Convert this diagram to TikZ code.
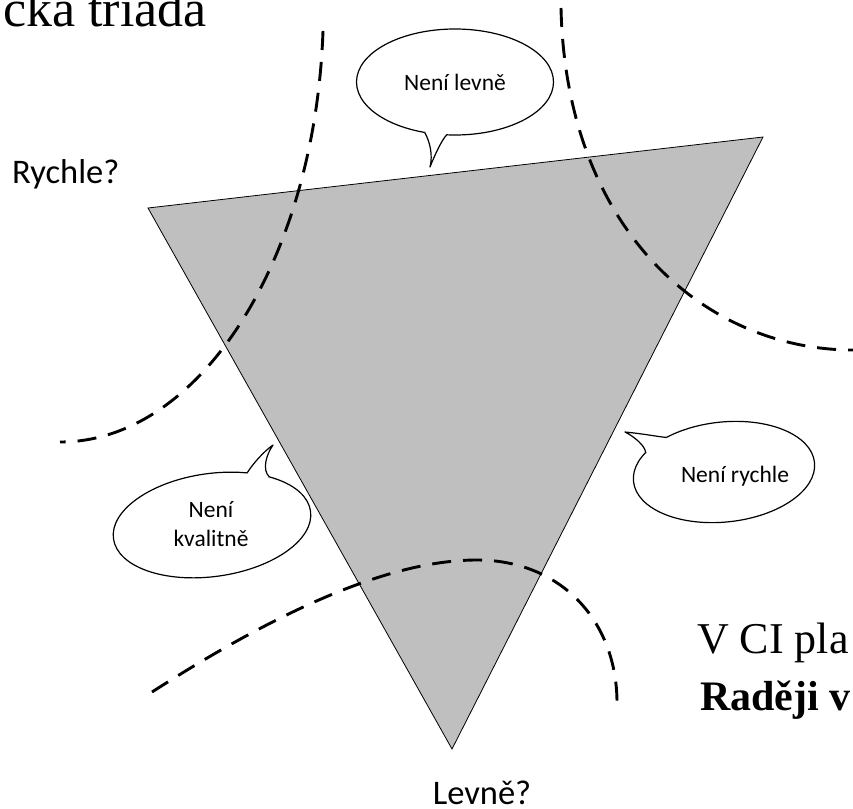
\documentclass[tikz,border=0pt]{standalone}
\usepackage{fontspec}
\setmainfont{Liberation Serif}
\newfontfamily\calibri{Carlito}
\usetikzlibrary{shapes.geometric,calc}
\definecolor{triGray}{RGB}{191,191,191}
\begin{document}
\begin{tikzpicture}[x=1pt,y=-1pt,
  tri/.style={fill=triGray, draw=black, line width=0.8pt, line join=miter},
  sep/.style={draw=black, dash pattern=on 19pt off 12pt, line width=2.9pt},
  bubble/.style={ellipse, draw=black, fill=white, line width=1.2pt, inner sep=0pt, outer sep=0pt},
  tail/.style={draw=black, line width=1.2pt, line join=round},
  btext/.style={font=\calibri\fontsize{23.5}{29}\selectfont, align=center, inner sep=0pt},
  lab/.style={font=\calibri\fontsize{34.5}{40}\selectfont, inner sep=0pt},
  serif/.style={font=\fontsize{44}{50}\selectfont, inner sep=0pt, anchor=base west}]
\useasboundingbox (0,0) rectangle (853,808);
\begin{scope}
\clip (0,0) rectangle (853,808);
% triangle
\coordinate (A) at (148,208);
\coordinate (B) at (763,137);
\coordinate (C) at (452,749);
\draw[tri] (A) -- (B) -- (C) -- cycle;
% dashed separators
\coordinate (a0) at (323,31);
\coordinate (a1) at (60,442);
\draw[sep] (a0) .. controls (315,260) and (200,442) .. (a1);
\coordinate (b0) at (561,8);
\coordinate (b1) at (853,350);
\draw[sep] (b0) .. controls (566,230) and (705,350) .. (b1);
\coordinate (c0) at (152,692);
\coordinate (cm) at (477,560);
\coordinate (c1) at (617,703);
\draw[sep] (c0) .. controls (280,610) and (390,560) .. (cm) .. controls (560,560) and (617,620) .. (c1);
% bubble 1
\node[bubble, minimum width=197pt, minimum height=106pt] (e1) at (455,82) {};
\coordinate (tip1) at (430,167);
\fill[white] (e1.239.5) .. controls (430,142) and (433,155) .. (tip1) .. controls (436,152) and (442,140) .. (e1.261) -- ($(e1.center)!0.85!(e1.250)$) -- cycle;
\draw[tail] (e1.239.5) .. controls (430,142) and (433,155) .. (tip1) .. controls (436,152) and (442,140) .. (e1.261);
\node[btext] (t1) at (455,82) {Není levně};
% bubble 2
\node[bubble, minimum width=199pt, minimum height=103pt, rotate=8] (e2) at (212,525) {};
\coordinate (tip2) at (273,445);
\fill[white] (e2.48) .. controls (252,465) and (263,452) .. (tip2) .. controls (266,455) and (262,470) .. (e2.32) -- ($(e2.center)!0.85!(e2.40)$) -- cycle;
\draw[tail] (e2.48) .. controls (252,465) and (263,452) .. (tip2) .. controls (266,455) and (262,470) .. (e2.32);
\node[btext] (t2) at (211,524) {Není\\kvalitně};
% bubble 3
\node[bubble, minimum width=182pt, minimum height=100pt, rotate=6] (e3) at (724,472) {};
\coordinate (tip3) at (625,432);
\fill[white] (e3.160) .. controls (645,446) and (635,437) .. (tip3) .. controls (645,434) and (660,437) .. (e3.143) -- ($(e3.center)!0.85!(e3.151)$) -- cycle;
\draw[tail] (e3.160) .. controls (645,446) and (635,437) .. (tip3) .. controls (645,434) and (660,437) .. (e3.143);
\node[btext] (t3) at (735,476) {Není rychle};
% labels
\node[lab, anchor=base west] (rychle) at (12,183) {Rychle?};
\node[lab, anchor=base] (levne) at (482,804) {Levně?};
\node[serif, font=\fontsize{52}{60}\selectfont] (title) at (3,27) {cká triáda};
\node[serif] (vci) at (697,653) {V CI pla};
\node[serif, font=\fontsize{42}{50}\selectfont\bfseries] (radeji) at (700,710) {Raději v};
\end{scope}
\end{tikzpicture}
\end{document}
